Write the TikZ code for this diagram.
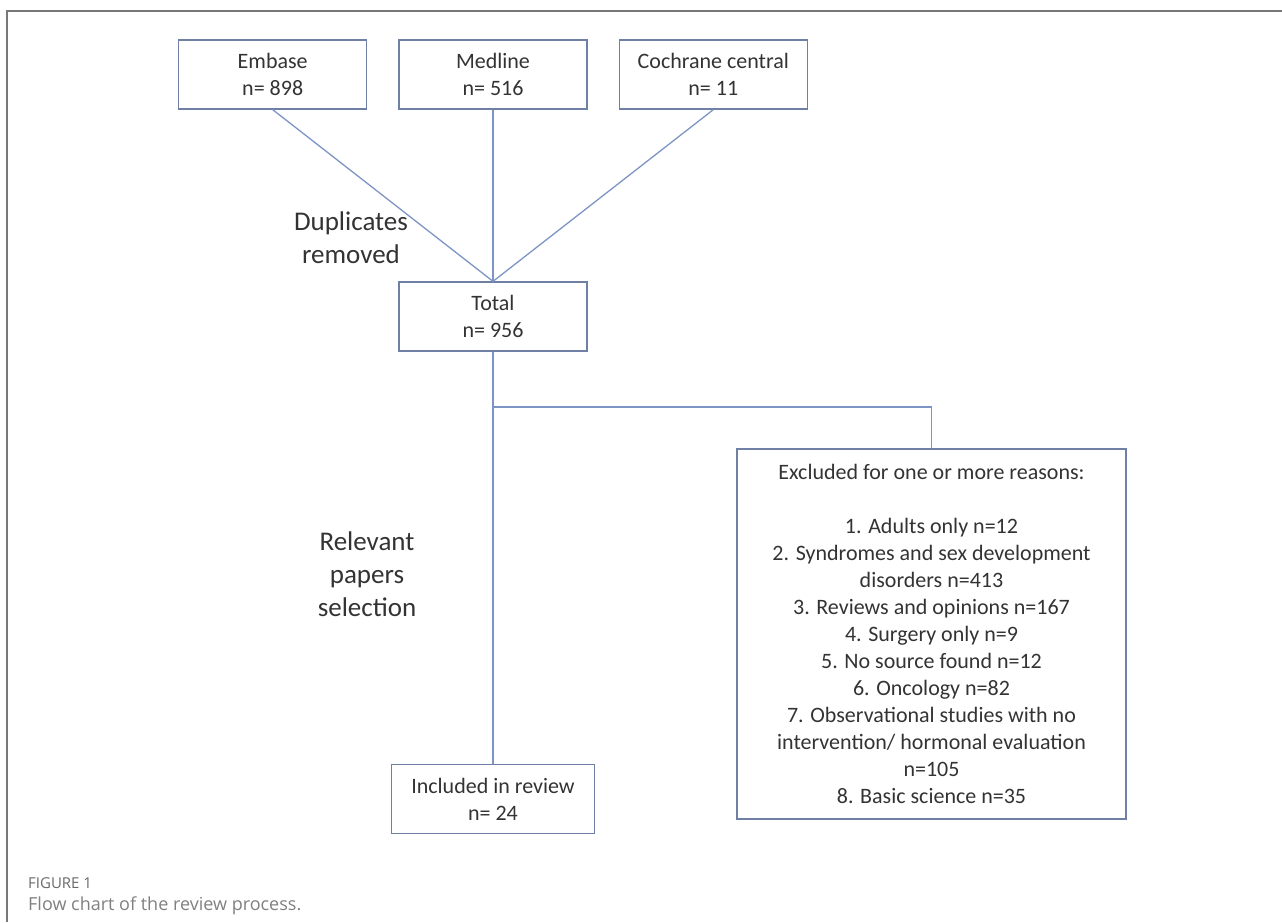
\documentclass[tikz,border=0pt]{standalone}
\usepackage{fontspec}
\setmainfont{Carlito}
\newfontfamily\capfont{Open Sans}
\usetikzlibrary{positioning,calc}

\definecolor{boxline}{RGB}{112,128,165}
\definecolor{linkline}{RGB}{125,148,196}
\definecolor{txt}{RGB}{51,51,51}
\definecolor{framegray}{RGB}{120,120,120}
\definecolor{capgray}{RGB}{105,105,105}

\tikzset{
  srcbox/.style={draw=boxline, line width=1.3pt, minimum width=188pt, minimum height=69pt,
    inner sep=0pt, align=center, text=txt, font=\fontsize{22}{27}\selectfont},
  link/.style={draw=linkline, line width=1.3pt},
  steplabel/.style={align=center, text=txt, font=\fontsize{27}{33}\selectfont},
  caption/.style={anchor=west, text=capgray, inner sep=0pt}
}

\begin{document}
\begin{tikzpicture}[x=1pt,y=-1pt]
\useasboundingbox (0,0) rectangle (1282,922);
% frame
\draw[framegray, line width=1.2pt] (7,922) -- (7,11) -- (1282,11);

% databases
\node[srcbox] (medline) at (493,74.5) {Medline\\n= 516};
\node[srcbox, left=31pt of medline] (embase) {Embase\\n= 898};
\node[srcbox, right=31pt of medline] (cochrane) {Cochrane central\\n= 11};

\node[srcbox] (total) at (493,316.5) {Total\\n= 956};
\node[srcbox, minimum width=203pt] (included) at (493,799) {Included in review\\n= 24};
\node[srcbox, minimum width=389pt, minimum height=370pt] (excluded) at (931.5,634)
  {Excluded for one or more reasons:\\[27pt]
   1. Adults only n=12\\
   2. Syndromes and sex development\\
   disorders n=413\\
   3. Reviews and opinions n=167\\
   4. Surgery only n=9\\
   5. No source found n=12\\
   6. Oncology n=82\\
   7. Observational studies with no\\
   intervention/ hormonal evaluation\\
   n=105\\
   8. Basic science n=35};

\node[steplabel] (dupl) at (351,238) {Duplicates\\removed};
\node[steplabel] (select) at (367,574) {Relevant\\papers\\selection};

% connectors
\draw[link] (embase.south) -- (total.north);
\draw[link] (medline.south) -- (total.north);
\draw[link] (cochrane.south) -- (total.north);
\draw[link] (total) -- (included);
\coordinate (split) at (493,407);
\draw[link] (split) -| (excluded.north);

% caption
\node[caption, font=\capfont\fontsize{15}{18}\selectfont] (figno) at (28,883) {FIGURE 1};
\node[caption, font=\capfont\fontsize{18}{21}\selectfont, text=capgray!85] (figtext) at (28,906) {Flow chart of the review process.};
\end{tikzpicture}
\end{document}
